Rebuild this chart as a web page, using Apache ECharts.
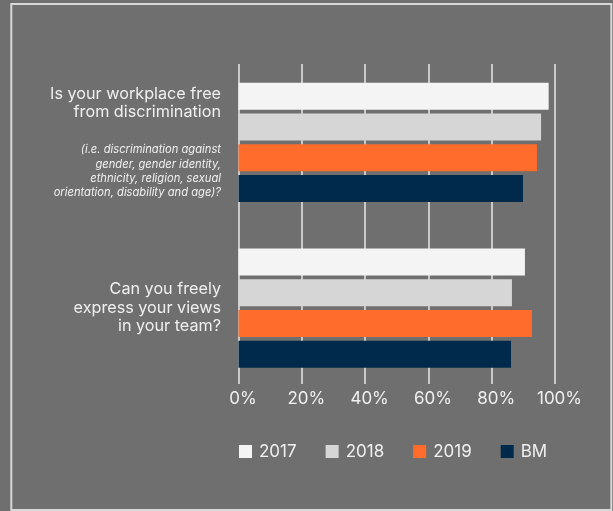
<!DOCTYPE html>
<html>
<head>
<meta charset="utf-8">
<script src="https://cdn.jsdelivr.net/npm/echarts@6/dist/echarts.min.js"></script>
<style>
  html, body { margin: 0; padding: 0; background: #6f6f6f; }
  #chart { width: 613px; height: 511px; }
</style>
</head>
<body>
<div id="chart"></div>
<script>
// Survey questions (main wording + optional italic clarification)
const categories = [
  'Is your workplace free\nfrom discrimination',
  'Can you freely\nexpress your views\nin your team?'
];
const categoryNotes = [
  '(i.e. discrimination against\ngender, gender identity,\nethnicity, religion, sexual\norientation, disability and age)?',
  ''
];

// Share of positive answers, in percent
const seriesNames = ['2017', '2018', '2019', 'BM'];
const values2017 = [98, 90.5];
const values2018 = [95.6, 86.4];
const values2019 = [94.3, 92.7];
const valuesBM = [89.9, 86.1];

const xTicks = [0, 20, 40, 60, 80, 100];

const colors = ['#f4f4f4', '#d6d6d6', '#ff6c2c', '#002a4c'];
const textColor = '#f0f0f0';
const font = 'Inter, "Noto Sans", sans-serif';

const chart = echarts.init(document.getElementById('chart'));

const seriesValues = [values2017, values2018, values2019, valuesBM];

chart.setOption({
  backgroundColor: '#6f6f6f',
  animation: false,
  graphic: [{
    type: 'rect',
    shape: { x: 11.3, y: 4, width: 600, height: 506 },
    style: { fill: 'none', stroke: '#d8d8d8', lineWidth: 2 },
    silent: true
  }],
  legend: {
    left: 239,
    top: 443,
    padding: 0,
    itemWidth: 13,
    itemHeight: 13,
    itemGap: 29,
    icon: 'rect',
    textStyle: { color: textColor, fontSize: 17, fontFamily: font, padding: [0, 0, 0, 2] },
    data: seriesNames
  },
  grid: [
    { left: 238.5, right: 58, top: 59.5, height: 331.5 },
    { left: 238.5, right: 58, top: 64, height: 320 }
  ],
  xAxis: [
    { type: 'value', gridIndex: 0, min: 0, max: 100, show: false },
    {
      type: 'value', gridIndex: 1, min: 0, max: 100, interval: 20,
      axisLine: { show: false },
      axisTick: { show: false },
      splitLine: { show: true, lineStyle: { color: '#c9c9c9', width: 2 } },
      axisLabel: {
        color: textColor, fontSize: 17, fontFamily: font, margin: 6,
        padding: [0, 0, 0, 9],
        formatter: v => xTicks.includes(v) ? v + '%' : ''
      }
    }
  ],
  yAxis: [
    {
      type: 'category', gridIndex: 0, inverse: true, data: categories,
      axisLine: { show: false },
      axisTick: { show: false },
      splitLine: { show: false },
      axisLabel: {
        margin: 17.5,
        align: 'right',
        formatter: (value, idx) => {
          const main = value.split('\n').map(l => '{q|' + l + '}').join('\n');
          const note = categoryNotes[idx];
          if (!note) return main;
          return main + '\n{g| }\n' + note.split('\n').map(l => '{n|' + l + '}').join('\n');
        },
        rich: {
          q: { color: textColor, fontSize: 16.2, lineHeight: 18.5, fontFamily: font, align: 'right' },
          g: { fontSize: 10, lineHeight: 21, align: 'right' },
          n: { color: textColor, fontSize: 11.2, lineHeight: 14.3, fontStyle: 'italic', fontFamily: font, align: 'right' }
        }
      }
    },
    { type: 'category', gridIndex: 1, data: categories, show: false }
  ],
  series: seriesNames.map((name, i) => ({
    name,
    type: 'bar',
    xAxisIndex: 0,
    yAxisIndex: 0,
    data: seriesValues[i],
    barWidth: 27,
    barGap: '14%',
    itemStyle: { color: colors[i] }
  }))
});
</script>
</body>
</html>
